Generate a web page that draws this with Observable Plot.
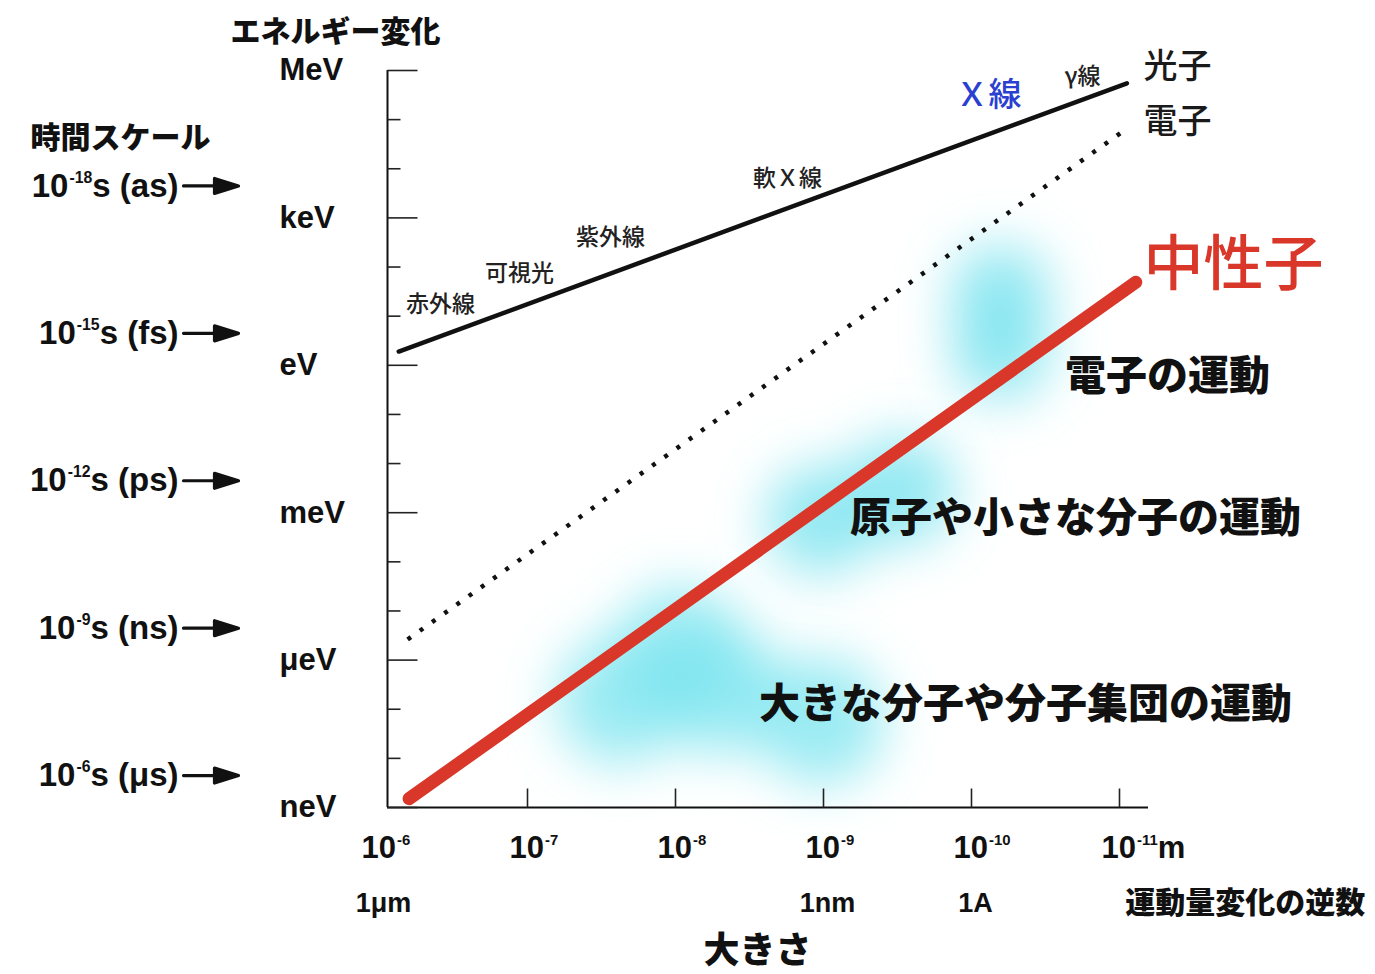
<!DOCTYPE html>
<html><head><meta charset="utf-8">
<script src="https://cdn.jsdelivr.net/npm/d3@7"></script>
<script src="https://cdn.jsdelivr.net/npm/@observablehq/plot@0.6"></script>
<style>body{margin:0;background:#fff} svg{display:block}</style>
</head><body><div id="chart"></div>
<script>
// ---- data (sizes in m, energies in eV) ----
const energyMajor = [1e-9, 1e-6, 1e-3, 1, 1e3, 1e6];
const energyNames = ["neV", "μeV", "meV", "eV", "keV", "MeV"];
const energyMinor = [1e-8, 1e-7, 1e-5, 1e-4, 1e-2, 1e-1, 1e1, 1e2, 1e4, 1e5];
const timeEnergies = [10**3.65, 10**0.65, 10**-2.35, 10**-5.35, 10**-8.35];
const timeNames = ["10⁻¹⁸s (as)", "10⁻¹⁵s (fs)", "10⁻¹²s (ps)", "10⁻⁹s (ns)", "10⁻⁶s (μs)"];
const sizeTicks = [1e-6, 1e-7, 1e-8, 1e-9, 1e-10, 1e-11];
const sizeTickNames = ["10⁻⁶", "10⁻⁷", "10⁻⁸", "10⁻⁹", "10⁻¹⁰", "10⁻¹¹m"];
const sizeUnits = [1e-6, 1e-9, 1e-10];
const sizeUnitNames = ["1μm", "1nm", "1A"];
const xDomain = [10**-6.054, 10**-11.196];
const yDomain = [1e-9, 1e6];

const photonSize = [10**-6.13, 10**-11.05];
const photonEnergy = [10**0.28, 10**5.74];
const electronSize = [10**-6.19, 10**-11.06];
const electronEnergy = [10**-5.58, 10**4.84];
const neutronSize = [10**-6.20, 10**-11.11];
const neutronEnergy = [10**-8.82, 10**1.69];

const spectrumNames = ["赤外線", "可視光", "紫外線", "軟Ｘ線", "γ線"];
const spectrumSize = [10**-6.412, 10**-6.946, 10**-7.561, 10**-8.757, 10**-10.75];
const spectrumEnergy = [10**1.24, 10**1.87, 10**2.60, 10**3.80, 10**5.88];
const xrayName = ["Ｘ線"]; const xraySize = [10**-10.115]; const xrayEnergy = [10**5.49];

const particleNames = ["光子", "電子"];
const particleSize = [10**-11.162, 10**-11.162];
const particleEnergy = [10**6.06, 10**4.94];
const neutronName = ["中性子"]; const neutronLabelSize = [10**-11.162]; const neutronLabelEnergy = [10**2.03];

const regionNames = ["電子の運動", "原子や小さな分子の運動", "大きな分子や分子集団の運動"];
const regionSize = [10**-11.324, 10**-10.703, 10**-10.365];
const regionEnergy = [10**-0.23, 10**-3.12, 10**-6.92];

const blobASize = [10**-10.196, 10**-10.196];
const blobAEnergy = [10**1.45, 10**0.30];
const blobBSize = [10**-8.980, 10**-9.520];
const blobBEnergy = [10**-3.158, 10**-2.548];
const blobCSize = [10**-7.628, 10**-8.304, 10**-8.034, 10**-8.98];
const blobCEnergy = [10**-6.82, 10**-6.62, 10**-5.80, 10**-7.23];

// ---- helpers ----
const pts = (xs, ys) => xs.map((x, i) => ({x, y: ys[i]}));
const LAT = "'Liberation Sans', Arial, Helvetica, sans-serif";
const CJK = "'Noto Sans CJK JP', 'Noto Sans', sans-serif";
const tickShape = {draw(ctx, l) { ctx.moveTo(0, 0); ctx.lineTo(0, -l); }};
const arrowShape = {draw(ctx, l) {
  const h = 24;
  ctx.moveTo(0, 0); ctx.lineTo(0, -(l - h));
  ctx.moveTo(-7.5, -(l - h)); ctx.lineTo(0, -l); ctx.lineTo(7.5, -(l - h)); ctx.closePath();
}};
const eName = new Map(energyMajor.map((v, i) => [v, energyNames[i]]));
const sName = new Map(sizeTicks.map((v, i) => [v, sizeTickNames[i]]));
const uName = new Map(sizeUnits.map((v, i) => [v, sizeUnitNames[i]]));
const cyan = "#7ae4ef";

const chart = Plot.plot({
  width: 1375, height: 974,
  marginLeft: 387, marginRight: 227, marginTop: 70, marginBottom: 167,
  x: {type: "log", domain: xDomain},
  y: {type: "log", domain: yDomain},
  style: {background: "#fff", overflow: "visible"},
  marks: [
    // soft cyan clouds
    Plot.dot(pts(blobASize, blobAEnergy), {x: "x", y: "y", r: 50, fill: cyan, fillOpacity: 0.8, stroke: "none"}),
    Plot.dot(pts(blobBSize, blobBEnergy), {x: "x", y: "y", r: 55, fill: cyan, fillOpacity: 0.8, stroke: "none"}),
    Plot.dot(pts(blobCSize, blobCEnergy), {x: "x", y: "y", r: 64, fill: cyan, fillOpacity: 0.75, stroke: "none"}),
    // axes lines
    Plot.ruleX([xDomain[0]], {stroke: "#111", strokeWidth: 2}),
    Plot.ruleY([yDomain[0]], {stroke: "#111", strokeWidth: 2}),
    // y ticks (inward)
    Plot.vector(energyMajor, {y: d => d, frameAnchor: "left", rotate: 90, length: 30, anchor: "start", shape: tickShape, stroke: "#222", strokeWidth: 1.6, strokeLinecap: "butt"}),
    Plot.vector(energyMinor, {y: d => d, frameAnchor: "left", rotate: 90, length: 13, anchor: "start", shape: tickShape, stroke: "#222", strokeWidth: 1.6, strokeLinecap: "butt"}),
    // x ticks (inward)
    Plot.vector(sizeTicks.slice(1), {x: d => d, frameAnchor: "bottom", rotate: 0, length: 19, anchor: "start", shape: tickShape, stroke: "#222", strokeWidth: 1.6, strokeLinecap: "butt"}),
    // y tick labels
    Plot.axisY(energyMajor, {anchor: "left", label: null, tickSize: 0, tickPadding: 0, dx: -108, dy: 0, textAnchor: "start",
      tickFormat: d => eName.get(d), fontSize: 31, fontWeight: "bold", fontFamily: LAT, fill: "#111"}),
    // x tick labels
    Plot.axisX(sizeTicks, {anchor: "bottom", label: null, tickSize: 0, tickPadding: 0, dy: 41, dx: -18, textAnchor: "start", lineAnchor: "middle",
      tickFormat: d => sName.get(d), fontSize: 31, fontWeight: "bold", fontFamily: LAT, fill: "#111"}),
    Plot.text(sizeUnits, {x: d => d, text: d => uName.get(d), frameAnchor: "bottom", lineAnchor: "middle", dy: 96, dx: 4, fontSize: 27, fontWeight: "bold", fontFamily: LAT, fill: "#111"}),
    // time scale
    Plot.text(timeEnergies, {y: d => d, text: (d, i) => timeNames[i], frameAnchor: "left", dx: -209, textAnchor: "end", fontSize: 33, fontWeight: "bold", fontFamily: LAT, fill: "#111"}),
    Plot.vector(timeEnergies, {y: d => d, frameAnchor: "left", dx: -204, rotate: 90, length: 55, anchor: "start", shape: arrowShape, fill: "#111", stroke: "#111", strokeWidth: 3.2}),
    // lines
    Plot.line(pts(photonSize, photonEnergy), {x: "x", y: "y", stroke: "#111", strokeWidth: 4.5}),
    Plot.line(pts(electronSize, electronEnergy), {x: "x", y: "y", stroke: "#111", strokeWidth: 4.5, strokeDasharray: "4,11", strokeLinecap: "butt"}),
    Plot.line(pts(neutronSize, neutronEnergy), {x: "x", y: "y", stroke: "#d8372a", strokeWidth: 13, strokeLinecap: "round"}),
    // labels
    Plot.text(spectrumNames, {x: (d, i) => spectrumSize[i], y: (d, i) => spectrumEnergy[i], text: d => d, fontSize: 23, fontFamily: CJK, fontWeight: 500, fill: "#222"}),
    Plot.text(xrayName, {x: (d, i) => xraySize[i], y: (d, i) => xrayEnergy[i], text: d => d, fontSize: 33, fontFamily: CJK, fontWeight: 500, fill: "#2b3fd0"}),
    Plot.text(particleNames, {x: (d, i) => particleSize[i], y: (d, i) => particleEnergy[i], text: d => d, textAnchor: "start", fontSize: 34, fontFamily: CJK, fontWeight: 500, fill: "#1a1a1a"}),
    Plot.text(neutronName, {x: (d, i) => neutronLabelSize[i], y: (d, i) => neutronLabelEnergy[i], text: d => d, textAnchor: "start", fontSize: 60, fontFamily: CJK, fontWeight: 500, fill: "#d8372a"}),
    Plot.text(regionNames, {x: (d, i) => regionSize[i], y: (d, i) => regionEnergy[i], text: d => d, fontSize: 41, fontFamily: CJK, fontWeight: 900, fill: "#111"}),
    // titles
    Plot.text(["エネルギー変化"], {text: d => d, frameAnchor: "top-left", textAnchor: "middle", lineAnchor: "middle", dx: -52, dy: -38, fontSize: 30, fontFamily: CJK, fontWeight: 900, fill: "#111"}),
    Plot.text(["時間スケール"], {text: d => d, frameAnchor: "top-left", textAnchor: "middle", lineAnchor: "middle", dx: -267, dy: 68, fontSize: 30, fontFamily: CJK, fontWeight: 900, fill: "#111"}),
    Plot.text(["運動量変化の逆数"], {x: 10**-11.85, text: d => d, frameAnchor: "bottom", lineAnchor: "middle", dy: 96, fontSize: 30, fontFamily: CJK, fontWeight: 900, fill: "#111"}),
    Plot.text(["大きさ"], {x: 10**-8.554, text: d => d, frameAnchor: "bottom", lineAnchor: "middle", dy: 144, fontSize: 36, fontFamily: CJK, fontWeight: 900, fill: "#111"})
  ]
});

const ns = "http://www.w3.org/2000/svg";
const defs = document.createElementNS(ns, "defs");
defs.innerHTML = '<filter id="glow" x="-100%" y="-100%" width="300%" height="300%"><feGaussianBlur stdDeviation="26"/></filter>';
chart.insertBefore(defs, chart.firstChild);
chart.querySelectorAll('g[aria-label="dot"]').forEach(g => g.setAttribute("filter", "url(#glow)"));
document.getElementById("chart").appendChild(chart);

// render Unicode superscripts as small raised text (keeps real text)
const supMap = {"⁻": "-", "⁰": "0", "¹": "1", "²": "2", "³": "3", "⁴": "4", "⁵": "5", "⁶": "6", "⁷": "7", "⁸": "8", "⁹": "9"};
chart.querySelectorAll("text").forEach(t => {
  const s = t.textContent;
  if (!/[⁻⁰¹²³⁴⁵⁶⁷⁸⁹]/.test(s) || t.children.length) return;
  const fs = parseFloat(getComputedStyle(t).fontSize);
  const runs = s.match(/[⁻⁰¹²³⁴⁵⁶⁷⁸⁹]+|[^⁻⁰¹²³⁴⁵⁶⁷⁸⁹]+/g);
  t.textContent = "";
  const shift = fs * 0.42;
  runs.forEach(r => {
    const sp = document.createElementNS(ns, "tspan");
    if (/[⁻⁰¹²³⁴⁵⁶⁷⁸⁹]/.test(r)) {
      sp.textContent = [...r].map(c => supMap[c]).join("");
      sp.setAttribute("font-size", (fs * 0.48).toFixed(1));
      sp.setAttribute("dy", (-shift).toFixed(1));
      sp.setAttribute("dx", "1");
      sp.setAttribute("data-sup", "1");
    } else {
      sp.textContent = r;
      const prev = t.lastElementChild;
      if (prev && prev.getAttribute("data-sup")) sp.setAttribute("dy", shift.toFixed(1));
    }
    t.appendChild(sp);
  });
});
</script>
</body></html>
